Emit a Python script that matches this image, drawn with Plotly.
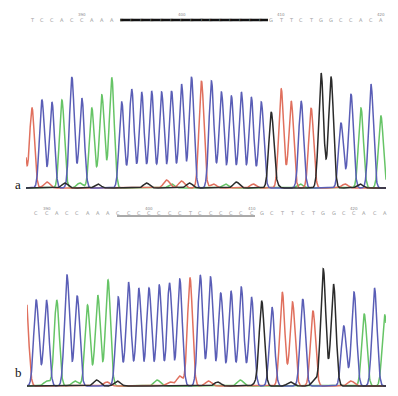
import numpy as np
import plotly.graph_objects as go

# ---------------- data ----------------
# base calls (A=green, C=blue, G=black, T=red) and peak heights per panel
seq_a = "TTCCACCAAACCCCCCCCTCCCCCCGTTCTGGCCACA"          # first base is cut off at the left edge
start_a = -1
heights_a = [100, 80, 88, 86, 88, 111, 90, 80, 92, 110, 86, 99, 96, 97, 96, 97, 104, 111,
             107, 107, 96, 92, 96, 91, 86, 74, 99, 87, 87, 80, 115, 108, 65, 94, 80, 104, 72]

seq_b = "TCCACCAAACCCCCCCTCCCCCCGCTTCTGGCCACA"
start_b = 0
heights_b = [88, 86, 86, 86, 111, 90, 81, 91, 106, 89, 104, 98, 98, 101, 103, 107, 108, 111,
             109, 93, 95, 99, 89, 84, 79, 94, 84, 87, 75, 117, 102, 60, 94, 72, 98, 71]

# small background peaks (base, position, height)
noise_a_base = ["T", "G", "A", "G", "A", "G", "T", "A", "T", "G", "T", "A", "G", "T", "G", "A", "G", "T", "G"]
noise_a_pos = [1.5, 3.3, 4.8, 6.6, 7.4, 11.5, 13.5, 14.0, 15.0, 15.8, 18.2, 19.4, 20.5, 22.2, 24.4, 26.9, 29.9, 31.4, 32.9]
noise_a_h = [6, 5, 5, 4, 3, 5, 8, 4, 7, 5, 4, 4, 6, 4, 4, 4, 3, 4, 4]

noise_b_base = ["A", "A", "G", "T", "G", "A", "T", "T", "T", "G", "A", "G", "G", "T", "G"]
noise_b_pos = [2.05, 4.8, 6.9, 7.9, 8.9, 12.8, 14.0, 15.0, 17.8, 18.7, 20.9, 22.5, 28.2, 31.7, 25.8]
noise_b_h = [5, 5, 6, 4, 5, 6, 4, 10, 5, 4, 6, 3, 6, 5, 4]

# ruler position labels
pos_labels = ["390", "400", "410", "420"]
pos_idx_a = [5, 15, 25, 35]
pos_idx_b = [2, 12, 22, 32]

# underlined regions (base index from, to)
underline_a = [8.83, 23.67]
underline_b = [8.88, 22.34]

panel_labels = ["a", "b"]

# ---------------- styling ----------------
COLORS = {"A": "#66c466", "C": "#5a5eb6", "G": "#2b2b2b", "T": "#e0705e"}
DRAW_ORDER = ["A", "T", "C", "G"]
SIG = 0.245
SIG_N = 0.3

W, H = 398, 396


def px_to_paper_y(py):
    return 1 - py / H


def build_traces(seq, start, heights, nb, npos, nh, xr, xaxis, yaxis):
    xs = np.linspace(xr[0], xr[1], 2500)
    out = []
    for base in DRAW_ORDER:
        y = np.zeros_like(xs)
        for k, (b, h) in enumerate(zip(seq, heights)):
            if b == base:
                y += h * np.exp(-((xs - (start + k)) ** 2) / (2 * SIG ** 2))
        for b, p, h in zip(nb, npos, nh):
            if b == base:
                y += h * np.exp(-((xs - p) ** 2) / (2 * SIG_N ** 2))
        out.append(go.Scatter(x=xs, y=y, mode="lines", xaxis=xaxis, yaxis=yaxis,
                              line=dict(color=COLORS[base], width=1.5),
                              hoverinfo="skip", showlegend=False))
    return out


# axis geometry (pixels)
xr_a = [-0.602, 35.51]
xr_b = [0.0976, 35.12]
dom_x_a = [26 / W, 386 / W]
dom_x_b = [27 / W, 386 / W]
dom_y_a = [(H - 190) / H, (H - 60) / H]
dom_y_b = [(H - 388) / H, (H - 258) / H]

fig = go.Figure()
for t in build_traces(seq_a, start_a, heights_a, noise_a_base, noise_a_pos, noise_a_h, xr_a, "x", "y"):
    fig.add_trace(t)
for t in build_traces(seq_b, start_b, heights_b, noise_b_base, noise_b_pos, noise_b_h, xr_b, "x2", "y2"):
    fig.add_trace(t)

ax = dict(visible=False, showgrid=False, zeroline=False, fixedrange=True)
fig.update_layout(
    width=W, height=H, margin=dict(l=0, r=0, t=0, b=0),
    paper_bgcolor="white", plot_bgcolor="white",
    xaxis=dict(domain=dom_x_a, range=xr_a, anchor="y", **ax),
    yaxis=dict(domain=dom_y_a, range=[-2, 128], anchor="x", **ax),
    xaxis2=dict(domain=dom_x_b, range=xr_b, anchor="y2", **ax),
    yaxis2=dict(domain=dom_y_b, range=[-2, 128], anchor="x2", **ax),
)

annotations = []
shapes = []


def ruler(seq, start, xr, xref, y_let, y_lab, y_line, idxs, under, thick):
    for k, b in enumerate(seq):
        i = start + k
        if xr[0] <= i <= xr[1]:
            annotations.append(dict(x=i, y=px_to_paper_y(y_let), xref=xref, yref="paper",
                                    text=b, showarrow=False,
                                    font=dict(size=5, color="#9a9a9a", family="DejaVu Sans")))
    for lab, i in zip(pos_labels, idxs):
        annotations.append(dict(x=i, y=px_to_paper_y(y_lab), xref=xref, yref="paper",
                                text=lab, showarrow=False,
                                font=dict(size=4, color="#8a8a8a", family="DejaVu Sans")))
    shapes.append(dict(type="line", xref=xref, yref="paper",
                       x0=under[0], x1=under[1],
                       y0=px_to_paper_y(y_line), y1=px_to_paper_y(y_line),
                       line=dict(color="#111111" if thick else "#555555", width=2.6 if thick else 1)))


ruler(seq_a, start_a, xr_a, "x", 15, 10.5, 20, pos_idx_a, underline_a, True)
ruler(seq_b, start_b, xr_b, "x2", 213, 208.5, 216, pos_idx_b, underline_b, False)

for lab, py in zip(panel_labels, [184, 382]):
    annotations.append(dict(x=13 / W, y=px_to_paper_y(py), xref="paper", yref="paper",
                            text=lab, showarrow=False,
                            font=dict(size=13, color="#111111", family="Liberation Serif")))

fig.update_layout(annotations=annotations, shapes=shapes)
fig.write_html("out.html", config={"displayModeBar": False, "staticPlot": True},
               post_script="document.body.style.margin='0px';document.body.style.overflow='hidden';")
